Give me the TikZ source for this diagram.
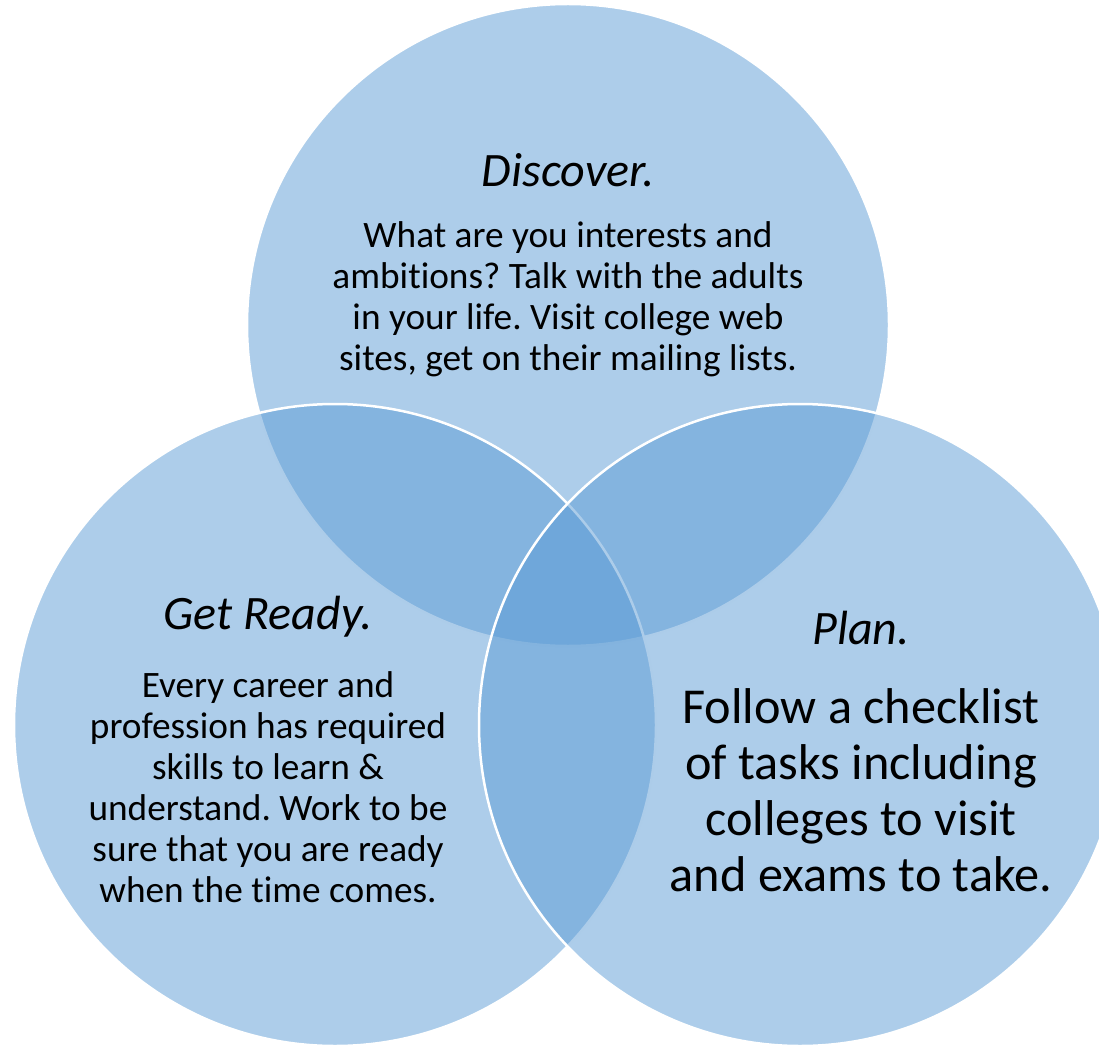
\documentclass[tikz,border=0pt]{standalone}
\usepackage{fontspec}
\setmainfont{Carlito}[Ligatures=NoCommon]
\definecolor{vennblue}{HTML}{5B9BD5}
\frenchspacing

\begin{document}
\begin{tikzpicture}[
    x=1pt, y=-1pt,
    circ/.style={circle, draw=white, line width=2.5pt, fill=vennblue,
        fill opacity=0.5, minimum size=642pt, inner sep=0pt},
    head/.style={font=\fontsize{48}{56}\selectfont\itshape},
    body/.style={align=center, font=\fontsize{37.3}{41}\selectfont},
    bigbody/.style={align=center, font=\fontsize{50.3}{56}\selectfont}
]
\useasboundingbox (0,0) rectangle (1099,1048);
\clip (0,0) rectangle (1099,1048);

% --- the three circles ---
\node[circ] (discover) at (568,325) {};
\node[circ] (ready) at (335,725) {};
\node[circ] (plan) at (800,725) {};

% --- Discover ---
\node[head] (discoverhead) at (568,170) {Discover.};
\node[body] (discovertext) at (568,299) {What are you interests and\\
    ambitions? Talk with the adults\\ in your life. Visit college web\\
    sites, get on their mailing lists.};

% --- Get Ready ---
\node[head] (readyhead) at (268,617) {Get Ready.};
\node[body] (readytext) at (268,787) {Every career and\\
    profession has required\\ skills to learn \&\\
    understand. Work to be\\ sure that you are ready\\ when the time comes.};

% --- Plan ---
\node[head] (planhead) at (861,628) {Plan.};
\node[bigbody] (plantext) at (861,790) {Follow a checklist\\
    of tasks including\\ colleges to visit\\ and exams to take.};

\end{tikzpicture}
\end{document}
